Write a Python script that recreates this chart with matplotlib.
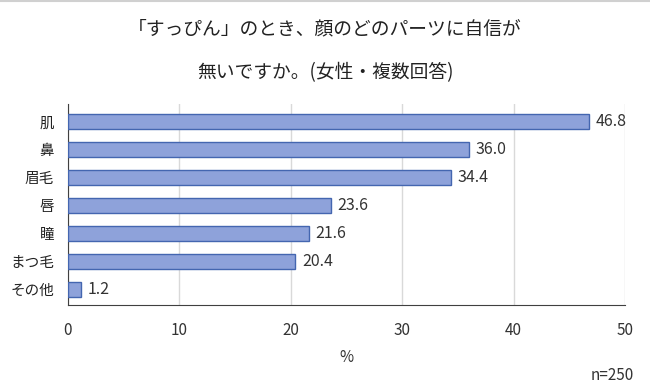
import matplotlib
matplotlib.use('Agg')
import matplotlib.pyplot as plt

# data
categories = ['肌', '鼻', '眉毛', '唇', '瞳', 'まつ毛', 'その他']
values = [46.8, 36.0, 34.4, 23.6, 21.6, 20.4, 1.2]
x_ticks = [0, 10, 20, 30, 40, 50]

plt.rcParams['font.family'] = ['Noto Sans CJK JP', 'DejaVu Sans']

fig = plt.figure(figsize=(6.5, 3.91), dpi=100)
ax = fig.add_axes([0.1046, 0.22, 0.857, 0.515])

ypos = list(range(len(categories)))
ax.barh(ypos, values, height=0.55, color='#8EA2DA', edgecolor='#4466B0', linewidth=1.0, zorder=3)
for y, v in zip(ypos, values):
    ax.text(v + 0.6, y, f'{v:.1f}', va='center', ha='left', fontsize=11.5, color='#333333')

ax.set_yticks(ypos)
ax.set_yticklabels(categories, fontsize=10.5, color='#222222')
ax.invert_yaxis()
ax.set_ylim(len(categories) - 0.45, -0.65)

ax.set_xlim(0, 50)
ax.set_xticks(x_ticks)
ax.set_xticklabels([str(t) for t in x_ticks], fontsize=11, color='#333333')
ax.tick_params(axis='both', length=0)
ax.tick_params(axis='x', pad=12)
ax.tick_params(axis='y', pad=10)
ax.xaxis.grid(True, color='#D9D9D9', linewidth=1.0, zorder=0)

for s in ['top', 'right']:
    ax.spines[s].set_visible(False)
ax.spines['left'].set_color('#404040')
ax.spines['bottom'].set_color('#404040')

# thin gray border line at the very top
fig.add_artist(plt.Line2D([0, 1], [0.997, 0.997], color='#D0D0D0', linewidth=1.5, transform=fig.transFigure))

fig.text(0.5, 0.925, '「すっぴん」のとき、顔のどのパーツに自信が', ha='center', va='center', fontsize=13.5, color='#222222')
fig.text(0.5, 0.815, '無いですか。(女性・複数回答)', ha='center', va='center', fontsize=13.5, color='#222222')
fig.text(0.533, 0.085, '%', ha='center', va='center', fontsize=11, color='#333333')
fig.text(0.975, 0.04, 'n=250', ha='right', va='center', fontsize=11, color='#333333')

fig.savefig('out.png', dpi=100)
